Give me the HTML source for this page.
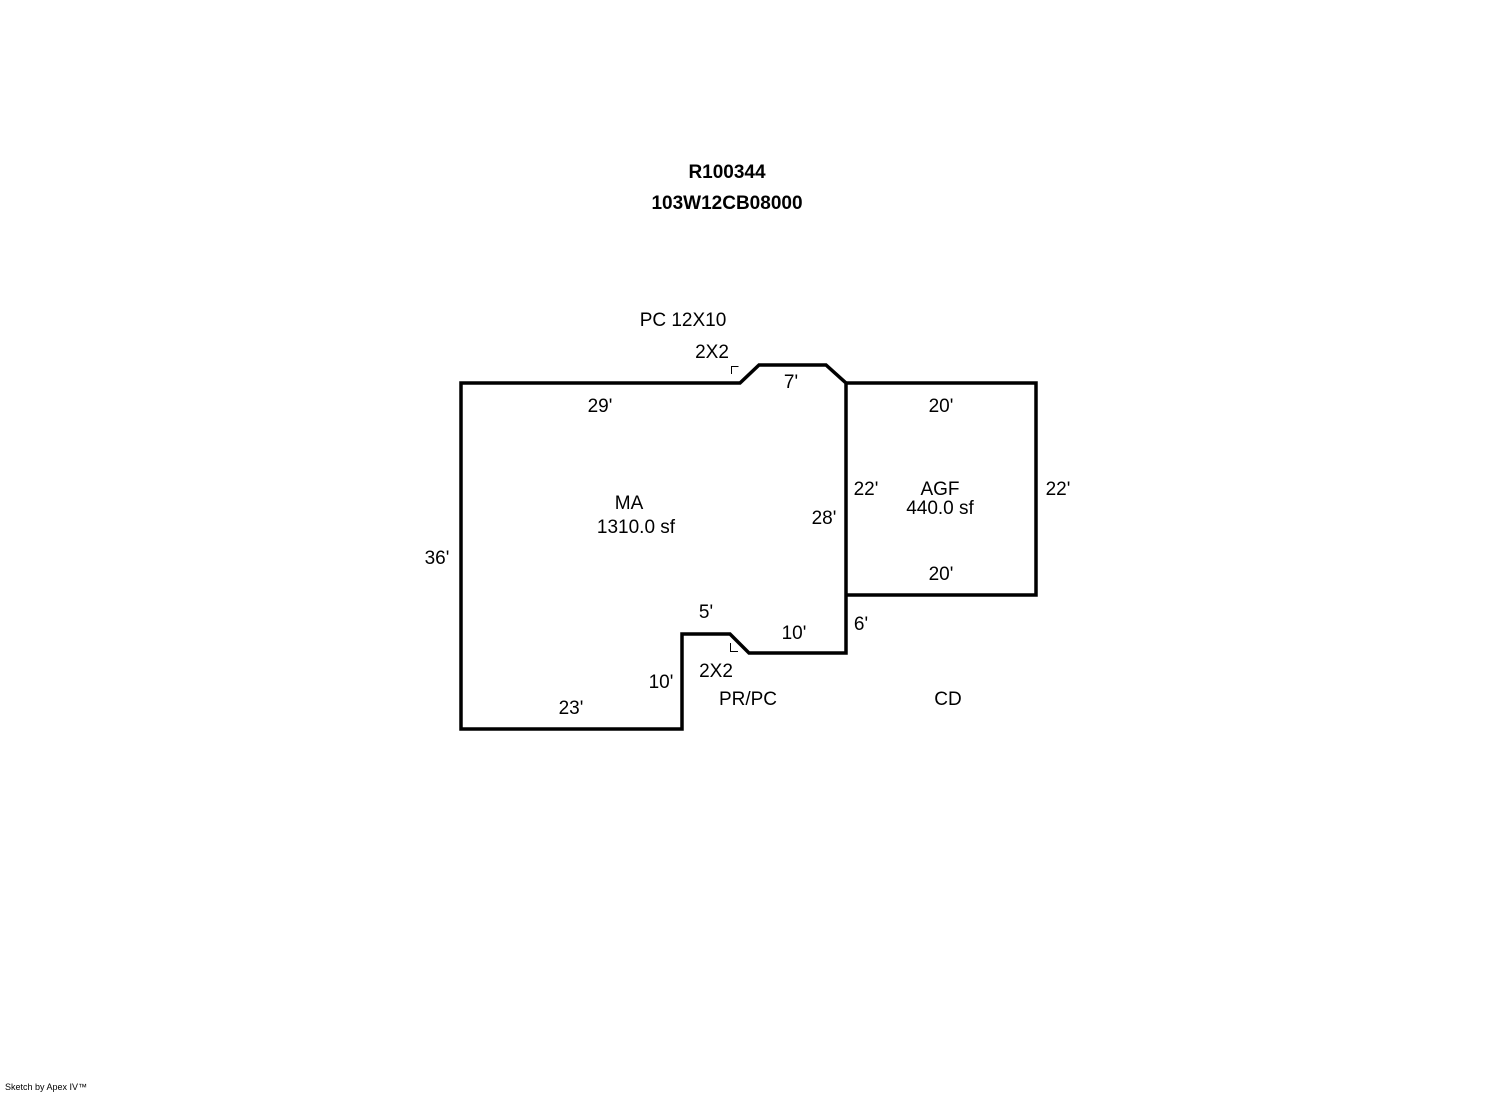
<!DOCTYPE html>
<html><head><style>
body{margin:0;background:#fff;}
svg text{font-family:"Liberation Sans",Arial,sans-serif;font-size:19px;fill:#000;}
</style></head><body>
<svg width="1492" height="1094" xmlns="http://www.w3.org/2000/svg">
<text x="727" y="178" text-anchor="middle" font-weight="bold" style="font-size:19px">R100344</text>
<text x="727" y="209" text-anchor="middle" font-weight="bold" style="font-size:19px">103W12CB08000</text>
<g fill="none" stroke="#000" stroke-width="3.5">
<path d="M461,383 L740,383 L759,365 L826,365 L846,383 L846,653 L749,653 L730,634 L682,634 L682,729 L461,729 Z"/>
<path d="M846,383 L1036,383 L1036,595 L846,595"/>
</g>
<g fill="none" stroke="#000" stroke-width="1">
<path d="M738.5,366.5 H731.5 V374"/>
<path d="M730.5,643 V651.5 H738"/>
</g>
<text x="683" y="326" text-anchor="middle">PC 12X10</text>
<text x="712" y="358" text-anchor="middle">2X2</text>
<text x="791" y="388" text-anchor="middle">7'</text>
<text x="600" y="412" text-anchor="middle">29'</text>
<text x="941" y="412" text-anchor="middle">20'</text>
<text x="866" y="495" text-anchor="middle">22'</text>
<text x="940" y="495" text-anchor="middle">AGF</text>
<text x="940" y="514" text-anchor="middle">440.0 sf</text>
<text x="1058" y="495" text-anchor="middle">22'</text>
<text x="629" y="509" text-anchor="middle">MA</text>
<text x="636" y="533" text-anchor="middle">1310.0 sf</text>
<text x="824" y="524" text-anchor="middle">28'</text>
<text x="437" y="564" text-anchor="middle">36'</text>
<text x="941" y="580" text-anchor="middle">20'</text>
<text x="706" y="618" text-anchor="middle">5'</text>
<text x="861" y="630" text-anchor="middle">6'</text>
<text x="794" y="639" text-anchor="middle">10'</text>
<text x="716" y="677" text-anchor="middle">2X2</text>
<text x="661" y="688" text-anchor="middle">10'</text>
<text x="748" y="705" text-anchor="middle">PR/PC</text>
<text x="948" y="705" text-anchor="middle">CD</text>
<text x="571" y="714" text-anchor="middle">23'</text>
<text x="5" y="1090" style="font-size:9px">Sketch by Apex IV™</text>
</svg>
</body></html>
